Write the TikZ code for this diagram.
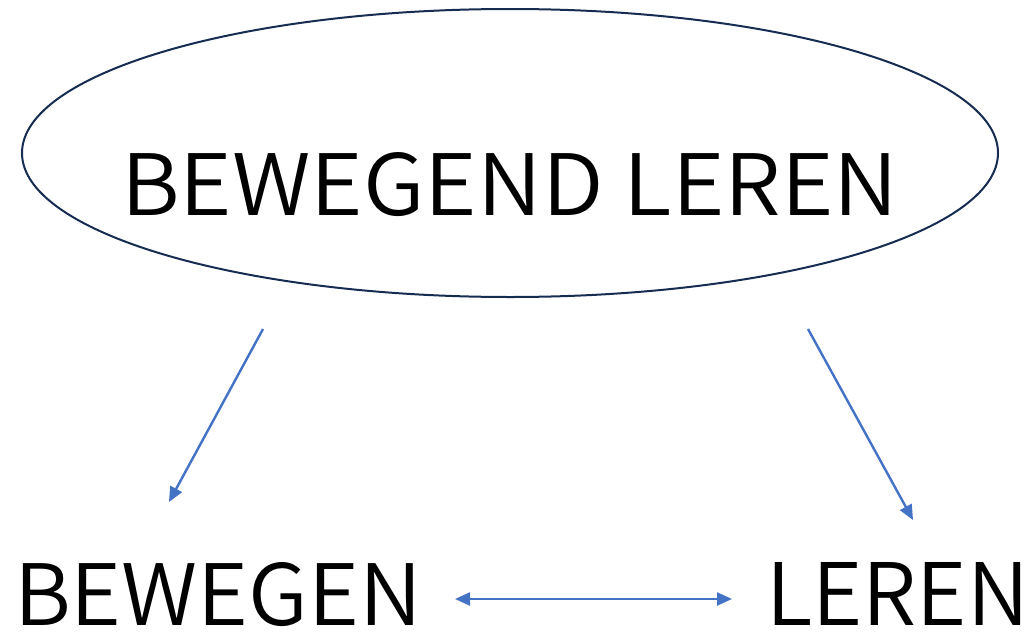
\documentclass[tikz,border=0pt]{standalone}
\usepackage{fontspec}
\usepackage{graphicx}
\usetikzlibrary{arrows.meta}
\newfontfamily\labelfont{Noto Sans CJK JP DemiLight}
\definecolor{outlinenavy}{HTML}{172C51}
\definecolor{linkblue}{HTML}{4472C4}
\tikzset{
  bigword/.style={inner sep=0pt, outer sep=0pt, anchor=north west, font=\labelfont},
  link/.style={draw=linkblue, line width=2.4pt, -{Triangle[length=15pt,width=13pt]}},
  twolink/.style={draw=linkblue, line width=2.4pt, {Triangle[length=15pt,width=13pt]}-{Triangle[length=15pt,width=13pt]}}
}
\begin{document}
\begin{tikzpicture}[x=1pt,y=-1pt]
\useasboundingbox (0,0) rectangle (1036,632);
% central concept
\draw[outlinenavy, line width=2pt] (510,153) ellipse [x radius=488, y radius=144];
\node[bigword] (title) at (121,152) {\resizebox{777pt}{63pt}{BEWEGEND LEREN}};
% the two parts
\node[bigword] (move) at (14,562) {\resizebox{408pt}{63pt}{BEWEGEN}};
\node[bigword] (learn) at (766,562) {\resizebox{263pt}{63pt}{LEREN}};
% arrow end points
\coordinate (ls) at (263,329);
\coordinate (le) at (169,502);
\coordinate (rs) at (808,329);
\coordinate (re) at (913,520);
\coordinate (ml) at (455,599);
\coordinate (mr) at (732,599);
\draw[link] (ls) -- (le);
\draw[link] (rs) -- (re);
\draw[twolink] (ml) -- (mr);
\end{tikzpicture}
\end{document}
